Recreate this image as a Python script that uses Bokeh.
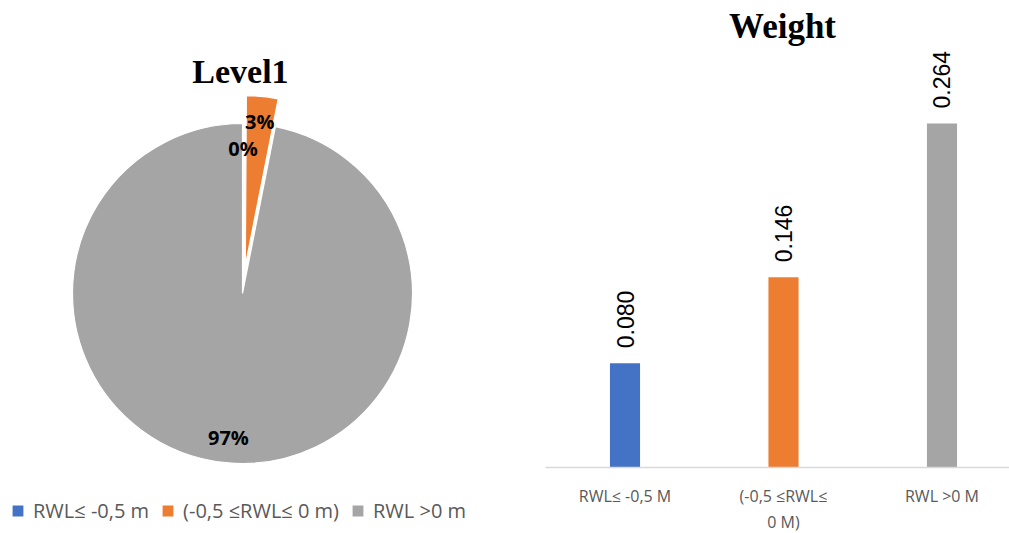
import math
import numpy as np
from bokeh.plotting import figure
from bokeh.models import ColumnDataSource, Range1d, Label, FixedTicker, Legend, LegendItem
from bokeh.layouts import row
from bokeh.embed import file_html
from bokeh.resources import INLINE
from bokeh.core.properties import value

# ---------------- data ----------------
pie_title = "Level1"
pie_labels = ["RWL\u2264 -0,5 m", "(-0,5 \u2264RWL\u2264 0 m)", "RWL >0 m"]
pie_values = [0.1, 3.0, 96.9]
pie_explode = [0.0, 0.165, 0.0]
colors = ["#4472C4", "#ED7D31", "#A5A5A5"]

bar_title = "Weight"
bar_categories = ["RWL\u2264 -0,5 M", "(-0,5 \u2264RWL\u2264\n0 M)", "RWL >0 M"]
bar_values = [0.080, 0.146, 0.264]

# ---------------- pie ----------------
fr = np.array(pie_values) / sum(pie_values)
cum_end = np.cumsum(fr)
cum_start = cum_end - fr
start_angle = math.pi / 2 - 2 * math.pi * cum_end
end_angle = math.pi / 2 - 2 * math.pi * cum_start
mid = (start_angle + end_angle) / 2
expl = np.array(pie_explode)
cx = expl * np.cos(mid)
cy = expl * np.sin(mid)
lab_r = 0.85
lx = cx + lab_r * np.cos(mid)
ly = cy + lab_r * np.sin(mid)
pct = [f"{int(round(f * 100))}%" for f in fr]

pie_src = ColumnDataSource(dict(x=cx, y=cy, start=start_angle, end=end_angle,
                                color=colors, label=pie_labels))
lab_src = ColumnDataSource(dict(x=lx, y=ly, text=pct))

p1 = figure(frame_width=530, frame_height=533,
            x_range=Range1d(-1.4235, 1.6941), y_range=Range1d(-1.4118, 1.7235),
            output_backend="svg", toolbar_location=None,
            x_axis_location=None, y_axis_location=None, min_border=0)
p1.outline_line_color = None
p1.grid.visible = False

r = p1.wedge(x="x", y="y", radius=1.0, start_angle="start", end_angle="end",
             fill_color="color", line_color="white", line_width=1.2, source=pie_src)
p1.text(x="x", y="y", text="text", source=lab_src, text_align="center",
        text_baseline="middle", text_font=value("Open Sans"), text_font_style="bold",
        text_font_size="20px", text_color="#000000")

p1.add_layout(Label(x=-0.012, y=1.306, text=pie_title, text_align="center",
                    text_baseline="alphabetic", text_font="Liberation Serif",
                    text_font_style="bold", text_font_size="34px", text_color="#000000"))

legend = Legend(items=[LegendItem(label=pie_labels[i], renderers=[r], index=i) for i in range(3)],
                orientation="horizontal", location=(10, 9), border_line_color=None,
                background_fill_alpha=0, padding=0, margin=0, spacing=11,
                glyph_width=15, glyph_height=15, label_standoff=8, label_height=20,
                label_text_font="Open Sans", label_text_font_size="20px",
                label_text_color="#595959")
p1.add_layout(legend)

# ---------------- bars ----------------
xs = list(range(len(bar_categories)))
val_labels = [f"{v:.3f}" for v in bar_values]
bar_src = ColumnDataSource(dict(x=xs, top=bar_values, color=colors, text=val_labels))

p2 = figure(frame_width=464, frame_height=467,
            x_range=Range1d(-0.5016, 2.4259), y_range=Range1d(0, 0.3584),
            output_backend="svg", toolbar_location=None, y_axis_location=None,
            min_border_left=15, min_border_right=0, min_border_top=0,
            min_border_bottom=60)
p2.outline_line_color = None
p2.grid.visible = False

p2.vbar(x="x", top="top", width=0.19, fill_color="color", line_color=None, source=bar_src)
p2.text(x="x", y="top", text="text", source=bar_src, angle=math.pi / 2,
        text_align="left", text_baseline="middle", y_offset=-15,
        text_font=value("Liberation Sans"), text_font_size="23px", text_color="#000000")

ax = p2.xaxis[0]
ax.ticker = FixedTicker(ticks=xs)
ax.major_label_overrides = {i: c for i, c in zip(xs, bar_categories)}
ax.major_tick_line_color = None
ax.major_tick_out = 0
ax.minor_tick_line_color = None
ax.axis_line_color = "#D9D9D9"
ax.axis_line_width = 1.5
ax.major_label_standoff = 17
ax.major_label_text_font = "Open Sans"
ax.major_label_text_font_size = "16px"
ax.major_label_text_color = "#595959"

p2.add_layout(Label(x=0.994, y=0.3385, text=bar_title, text_align="center",
                    text_baseline="alphabetic", text_font="Liberation Serif",
                    text_font_style="bold", text_font_size="35px", text_color="#000000"))

layout = row(p1, p2)
open("out.html", "w").write(file_html(layout, INLINE))
